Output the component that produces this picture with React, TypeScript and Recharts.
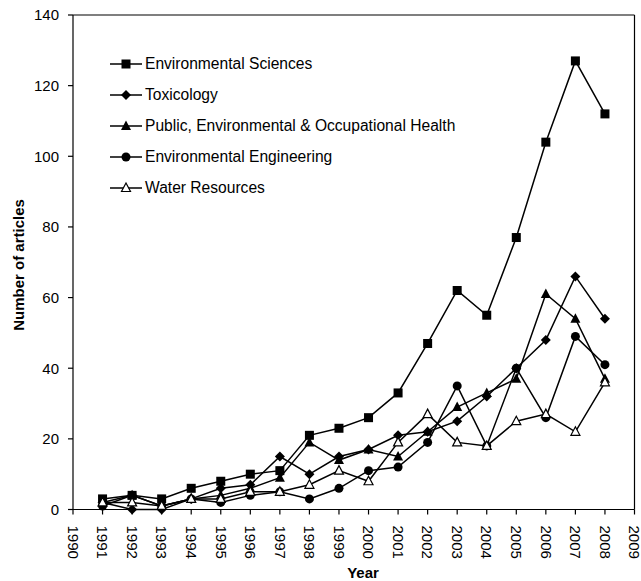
import React from "react";
import { LineChart, Line, XAxis, YAxis, Legend, ReferenceLine } from "recharts";

const years = [
  1991, 1992, 1993, 1994, 1995, 1996, 1997, 1998, 1999, 2000, 2001, 2002, 2003,
  2004, 2005, 2006, 2007, 2008,
];
const envSciences = [3, 4, 3, 6, 8, 10, 11, 21, 23, 26, 33, 47, 62, 55, 77, 104, 127, 112];
const toxicology = [2, 0, 0, 3, 6, 7, 15, 10, 15, 17, 21, 22, 25, 32, 40, 48, 66, 54];
const publicHealth = [2, 4, 1, 3, 4, 6, 9, 19, 14, 17, 15, 22, 29, 33, 37, 61, 54, 37];
const envEngineering = [1, 4, 1, 3, 2, 4, 5, 3, 6, 11, 12, 19, 35, 18, 40, 26, 49, 41];
const waterResources = [2, 2, 1, 3, 3, 5, 5, 7, 11, 8, 19, 27, 19, 18, 25, 27, 22, 36];

const xTicks = [
  1990, 1991, 1992, 1993, 1994, 1995, 1996, 1997, 1998, 1999, 2000, 2001, 2002,
  2003, 2004, 2005, 2006, 2007, 2008, 2009,
];
const yTicks = [0, 20, 40, 60, 80, 100, 120, 140];

const seriesList = [
  { key: "envSci", name: "Environmental Sciences", shape: "square", values: envSciences },
  { key: "tox", name: "Toxicology", shape: "diamond", values: toxicology },
  { key: "pub", name: "Public, Environmental & Occupational Health", shape: "triangle", values: publicHealth },
  { key: "eng", name: "Environmental Engineering", shape: "circle", values: envEngineering },
  { key: "water", name: "Water Resources", shape: "openTriangle", values: waterResources },
];

const data = years.map((year, i) => {
  const row: Record<string, number> = { year };
  seriesList.forEach((s) => {
    row[s.key] = s.values[i];
  });
  return row;
});

const FONT = "'Liberation Sans', Arial, sans-serif";

const Marker = ({ shape, cx, cy }: { shape: string; cx: number; cy: number }) => {
  if (cx == null || cy == null) return null;
  switch (shape) {
    case "square":
      return <rect x={cx - 4.5} y={cy - 4.5} width={9} height={9} fill="#000" />;
    case "diamond":
      return (
        <polygon
          points={`${cx},${cy - 5} ${cx + 5},${cy} ${cx},${cy + 5} ${cx - 5},${cy}`}
          fill="#000"
        />
      );
    case "triangle":
      return (
        <polygon
          points={`${cx},${cy - 5.5} ${cx + 5},${cy + 4} ${cx - 5},${cy + 4}`}
          fill="#000"
        />
      );
    case "circle":
      return <circle cx={cx} cy={cy} r={4.5} fill="#000" />;
    default:
      return (
        <polygon
          points={`${cx},${cy - 5} ${cx + 4.5},${cy + 3.5} ${cx - 4.5},${cy + 3.5}`}
          fill="#fff"
          stroke="#000"
          strokeWidth={1.2}
        />
      );
  }
};

const YearTick = (props: any) => {
  const { x, y, payload } = props;
  return (
    <text
      x={x}
      y={y}
      dy="0.35em"
      transform={`rotate(90, ${x}, ${y})`}
      textAnchor="start"
      fontSize={15}
      fontFamily={FONT}
      fill="#000"
    >
      {payload.value}
    </text>
  );
};

const LegendBox = () => (
  <div style={{ fontFamily: FONT, fontSize: 15.6, color: "#000" }}>
    {seriesList.map((s) => (
      <div key={s.key} style={{ display: "flex", alignItems: "center", height: 31 }}>
        <svg width={32} height={14} style={{ marginRight: 3 }}>
          <line x1={0} y1={7} x2={32} y2={7} stroke="#000" strokeWidth={1.5} />
          <Marker shape={s.shape} cx={16} cy={7} />
        </svg>
        <span style={{ whiteSpace: "nowrap" }}>{s.name}</span>
      </div>
    ))}
  </div>
);

export default function App() {
  return (
    <div style={{ position: "absolute", left: 0, top: 0 }}>
      <LineChart
        width={641}
        height={581}
        data={data}
        margin={{ top: 15, right: 6.5, bottom: 0, left: 0 }}
      >
        <XAxis
          dataKey="year"
          type="number"
          domain={[1990, 2009]}
          ticks={xTicks}
          interval={0}
          height={71.5}
          tickSize={5}
          tickMargin={11}
          tick={<YearTick />}
          axisLine={{ stroke: "#000", strokeWidth: 1.2 }}
          tickLine={{ stroke: "#000", strokeWidth: 1.2 }}
          label={{
            content: () => (
              <text
                x={363}
                y={578}
                textAnchor="middle"
                fontSize={15}
                fontWeight="bold"
                fontFamily={FONT}
                fill="#000"
              >
                Year
              </text>
            ),
          }}
        />
        <YAxis
          type="number"
          domain={[0, 140]}
          ticks={yTicks}
          interval={0}
          width={73}
          tickSize={5}
          tickMargin={9}
          tick={{ fontSize: 15, fontFamily: FONT, fill: "#000" }}
          axisLine={{ stroke: "#000", strokeWidth: 1.2 }}
          tickLine={{ stroke: "#000", strokeWidth: 1.2 }}
          label={{
            content: () => (
              <text
                x={19}
                y={265}
                transform="rotate(-90, 19, 265)"
                dy="0.35em"
                textAnchor="middle"
                fontSize={15}
                fontWeight="bold"
                fontFamily={FONT}
                fill="#000"
              >
                Number of articles
              </text>
            ),
          }}
        />
        <ReferenceLine y={140} stroke="#000" strokeWidth={1.2} />
        <ReferenceLine x={2009} stroke="#000" strokeWidth={1.2} />
        <Legend
          layout="vertical"
          align="center"
          verticalAlign="middle"
          content={() => <LegendBox />}
          wrapperStyle={{ left: 110, top: 48, width: 400, height: 160 }}
        />
        {seriesList.map((s) => (
          <Line
            key={s.key}
            dataKey={s.key}
            name={s.name}
            type="linear"
            stroke="#000"
            strokeWidth={1.5}
            isAnimationActive={false}
            dot={(p: any) => (
              <Marker key={`${s.key}-${p.index}`} shape={s.shape} cx={p.cx} cy={p.cy} />
            )}
            activeDot={false}
          />
        ))}
      </LineChart>
    </div>
  );
}
